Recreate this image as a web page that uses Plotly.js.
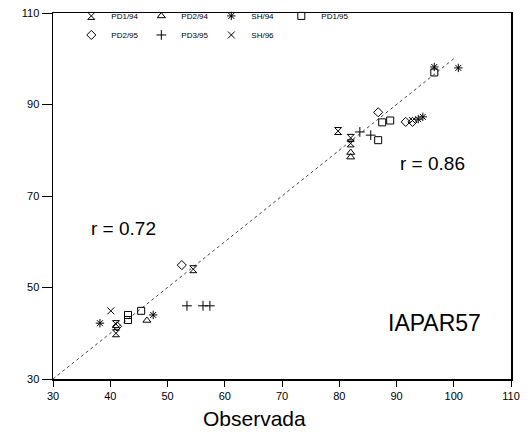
<!DOCTYPE html>
<html><head><meta charset="utf-8">
<script src="https://cdn.plot.ly/plotly-3.0.1.min.js"></script>
<style>body{margin:0;background:#fff}#c{width:531px;height:435px}</style>
</head><body><div id="c"></div>
<script>
// Data (Observada x, Estimada y)
const pd1_94_x = [41, 41, 54.5, 79.8, 82, 82];
const pd1_94_y = [40, 42, 54, 84.2, 82.7, 81.5];
const pd2_94_x = [46.4, 82, 82];
const pd2_94_y = [42.8, 79.5, 78.5];
const sh_94_x = [38.2, 47.5, 93.8, 94.6, 96.6, 100.8];
const sh_94_y = [42.2, 44, 86.8, 87.3, 98.2, 98];
const pd1_95_x = [43.1, 43.1, 45.4, 86.8, 87.5, 88.9, 96.6];
const pd1_95_y = [42.9, 44, 44.9, 82.2, 86.1, 86.5, 97];
const pd2_95_x = [41.2, 52.5, 86.8, 91.6, 92.8];
const pd2_95_y = [41.5, 54.9, 88.3, 86.2, 86.2];
const pd3_95_x = [53.4, 56.2, 57.4, 83.6, 85.5];
const pd3_95_y = [46, 46, 46, 84, 83.3];
const sh_96_x = [40.1, 92.8];
const sh_96_y = [44.9, 86.5];
const lineX = [30, 100];
const lineY = [30, 100];
const names = ['PD1/94','PD2/94','SH/94','PD1/95','PD2/95','PD3/95','SH/96'];
const xTicks = [30,40,50,60,70,80,90,100,110];
const yTicks = [30,50,70,90,110];

function tr(x, y, name, symbol, leg) {
  return {x: x, y: y, name: name, type: 'scatter', mode: 'markers',
    legend: leg,
    marker: {symbol: symbol, size: 7, color: '#000',
      line: {color: '#000', width: 1}}};
}
const data = [
  {x: lineX, y: lineY, type: 'scatter', mode: 'lines', showlegend: false,
   line: {color: '#444', width: 1, dash: 'dot'}, hoverinfo: 'skip'},
  tr(pd1_94_x, pd1_94_y, names[0], 'hourglass-open', 'legend'),
  tr(pd2_94_x, pd2_94_y, names[1], 'triangle-up-open', 'legend'),
  tr(sh_94_x, sh_94_y, names[2], 'asterisk-open', 'legend'),
  tr(pd1_95_x, pd1_95_y, names[3], 'square-open', 'legend'),
  tr(pd2_95_x, pd2_95_y, names[4], 'diamond-open', 'legend2'),
  tr(pd3_95_x, pd3_95_y, names[5], 'cross-thin-open', 'legend2'),
  tr(sh_96_x, sh_96_y, names[6], 'x-thin-open', 'legend2')
];
const F = 'Liberation Sans, Arial, sans-serif';
const legCommon = {orientation: 'h', xanchor: 'left', yanchor: 'middle',
  bgcolor: 'rgba(0,0,0,0)', font: {family: F, size: 8, color: '#000'},
  entrywidth: 25, itemwidth: 30};
const layout = {
  width: 531, height: 435,
  margin: {l: 53, r: 20, t: 13, b: 56, autoexpand: false},
  paper_bgcolor: '#fff', plot_bgcolor: '#fff',
  font: {family: F, color: '#000'},
  xaxis: {range: [30, 110], tickvals: xTicks, ticks: 'outside', ticklen: 6,
    tickcolor: '#000', showgrid: false, zeroline: false, showline: true,
    linecolor: '#000', linewidth: 1.5, mirror: true,
    tickfont: {family: F, size: 11, color: '#000'}},
  yaxis: {range: [30, 110], tickvals: yTicks, ticks: 'outside', ticklen: 10,
    tickcolor: '#000', showgrid: false, zeroline: false, showline: true,
    linecolor: '#000', linewidth: 1.5, mirror: true,
    tickfont: {family: F, size: 11, color: '#000'}},
  legend: Object.assign({x: 0.04, y: 0.992}, legCommon),
  legend2: Object.assign({x: 0.04, y: 0.94}, legCommon),
  annotations: [
    {x: 42.4, y: 62.8, xref: 'x', yref: 'y', text: 'r = 0.72', showarrow: false,
     font: {family: F, size: 19, color: '#000'}},
    {x: 96.2, y: 77.2, xref: 'x', yref: 'y', text: 'r = 0.86', showarrow: false,
     font: {family: F, size: 19, color: '#000'}},
    {x: 96.7, y: 42.2, xref: 'x', yref: 'y', text: 'IAPAR57', showarrow: false,
     font: {family: F, size: 23, color: '#000'}},
    {x: 0.441, y: -0.107, xref: 'paper', yref: 'paper', xanchor: 'center', yanchor: 'middle',
     text: 'Observada', showarrow: false,
     font: {family: F, size: 21, color: '#000'}}
  ]
};
Plotly.newPlot('c', data, layout, {displayModeBar: false, staticPlot: true});
</script></body></html>
